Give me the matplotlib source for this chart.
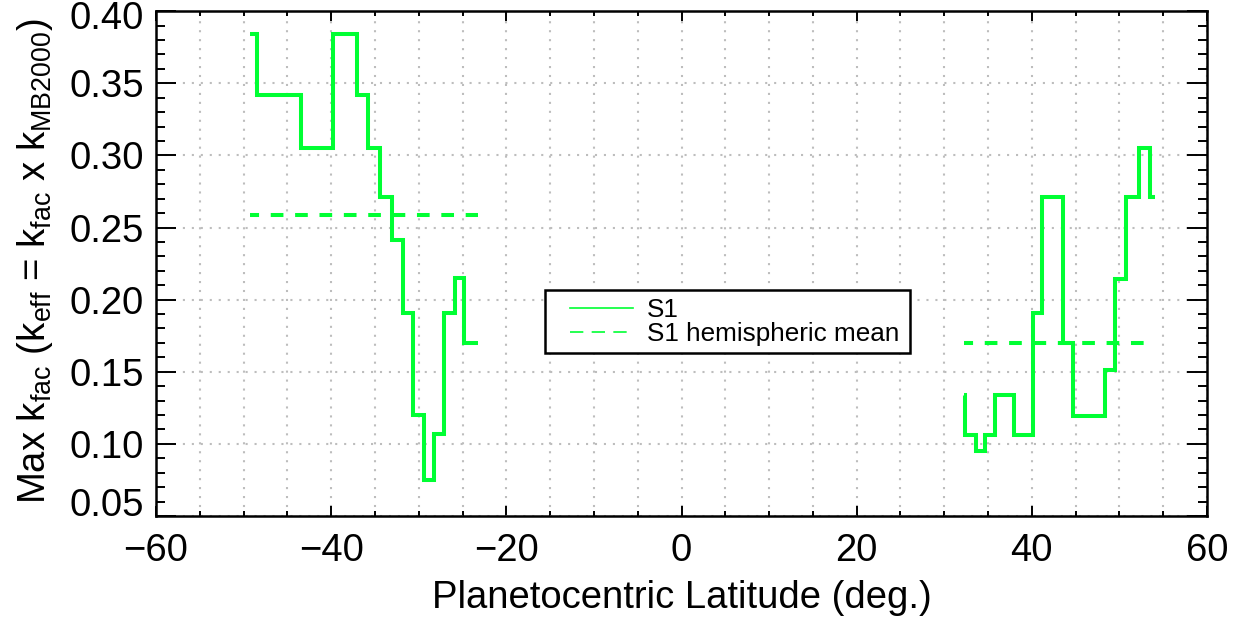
import numpy as np
import matplotlib
matplotlib.use("Agg")
import matplotlib.pyplot as plt
from matplotlib.lines import Line2D
from matplotlib.patches import Rectangle
from matplotlib.ticker import MultipleLocator, FormatStrFormatter
from matplotlib.transforms import ScaledTranslation

plt.rcParams['font.family'] = ['Liberation Sans', 'DejaVu Sans']
plt.rcParams['mathtext.fontset'] = 'custom'
plt.rcParams['mathtext.rm'] = 'Liberation Sans'
plt.rcParams['mathtext.it'] = 'Liberation Sans:italic'

# step edges (deg) and max k_fac per bin
south_edges = [-49.3, -48.5, -43.5, -39.8, -37.05, -35.75, -34.4, -33.1,
               -31.85, -30.65, -29.45, -28.25, -27.1, -25.9, -24.8, -23.2]
south_kfac = [0.384, 0.342, 0.305, 0.384, 0.342, 0.305, 0.271, 0.241,
              0.191, 0.120, 0.075, 0.107, 0.191, 0.215, 0.170]
north_edges = [32.2, 32.35, 33.65, 34.7, 35.85, 37.95, 40.15, 41.15,
               43.55, 44.65, 48.3, 49.45, 50.8, 52.2, 53.5, 54.1]
north_kfac = [0.134, 0.106, 0.095, 0.106, 0.134, 0.106, 0.191, 0.271,
              0.170, 0.119, 0.151, 0.214, 0.271, 0.305, 0.271]
south_mean = 0.259
north_mean = 0.170

green = '#00ff33'

fig = plt.figure(figsize=(12.4, 6.18), dpi=100)
ax = fig.add_axes([0.1258, 0.165, 0.8476, 0.817])

for edges, vals, mean in [(south_edges, south_kfac, south_mean),
                          (north_edges, north_kfac, north_mean)]:
    ax.step(edges, np.append(vals, vals[-1]), where='post', color=green,
            lw=2.9, solid_joinstyle='miter', solid_capstyle='butt', zorder=3)
    ax.plot([edges[0], edges[-1]], [mean, mean], color=green, lw=2.9,
            linestyle=(0.9, (3.15, 2.9)), zorder=3)

ax.set_xlim(-60, 60)
ax.set_ylim(0.05, 0.40)
ax.xaxis.set_major_locator(MultipleLocator(20))
ax.xaxis.set_minor_locator(MultipleLocator(5))
ax.set_yticks(np.arange(0.05, 0.401, 0.05))
ax.yaxis.set_minor_locator(MultipleLocator(0.01))
ax.yaxis.set_major_formatter(FormatStrFormatter('%.2f'))

ax.grid(True, which='minor', axis='x', color='#bdbdbd', lw=1.5,
        dashes=(1, 3.3), zorder=0)
ax.grid(True, which='major', axis='both', color='#bdbdbd', lw=1.5,
        dashes=(1, 3.3), zorder=0)

for s in ax.spines.values():
    s.set_linewidth(1.8)
ax.tick_params(which='both', direction='in', top=True, right=True,
               width=1.4, labelsize=27.5)
ax.tick_params(axis='x', which='major', length=7.2, pad=12)
ax.tick_params(axis='x', which='minor', length=3.8)
ax.tick_params(axis='y', which='major', length=14.4, pad=8.6)
ax.tick_params(axis='y', which='minor', length=6.7)

# edge labels sit inside the axis range, like the original
yt = ax.yaxis.get_major_ticks()
yt[0].label1.set_va('baseline')
top_lab = yt[-1].label1
top_lab.set_va('top')
top_lab.set_transform(top_lab.get_transform() +
                      ScaledTranslation(0, 7 / 72, fig.dpi_scale_trans))

ax.set_xlabel('Planetocentric Latitude (deg.)', fontsize=27.5)
ax.xaxis.label.set_va('center')
ax.xaxis.set_label_coords(0.5, -0.162)
ax.set_ylabel(r'Max k$_\mathrm{fac}$ (k$_\mathrm{eff}$ = k$_\mathrm{fac}$ x k$_\mathrm{MB2000}$)',
              fontsize=27.5)
ax.yaxis.label.set_va('center')
ax.yaxis.set_label_coords(-0.115, 0.505)

box = Rectangle((0.3701, 0.3228), 0.3473, 0.1247, transform=ax.transAxes,
                facecolor='white', edgecolor='black', lw=1.8, zorder=4)
ax.add_patch(box)
handles = [Line2D([], [], color=green, lw=1.2),
           Line2D([], [], color=green, lw=1.2, dashes=(8, 5))]
ax.legend(handles, ['S1', 'S1 hemispheric mean'], loc='center left',
          bbox_to_anchor=(0.394, 0.385), frameon=False, fontsize=18.8,
          borderpad=0, borderaxespad=0, handlelength=2.4,
          handletextpad=0.55, labelspacing=0.0).set_zorder(5)

fig.savefig('out.png', dpi=100)
